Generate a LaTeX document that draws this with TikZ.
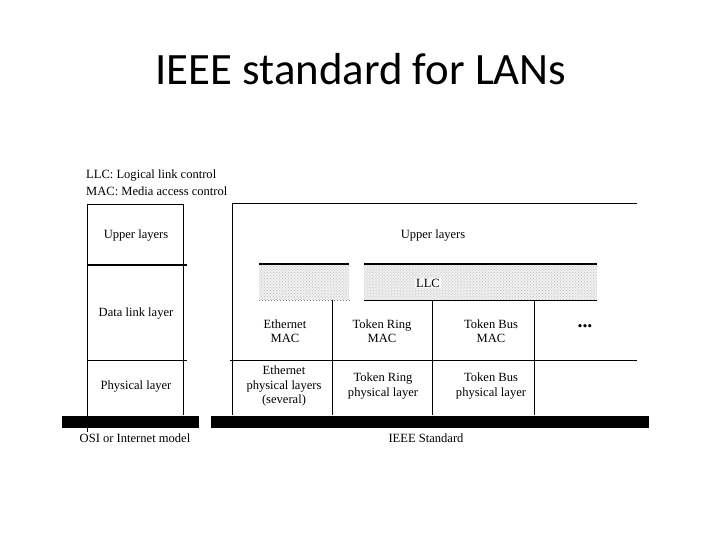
\documentclass[tikz,border=0pt]{standalone}
\usepackage{fontspec}
\setmainfont{Liberation Serif}
\newfontfamily\titlefont{Carlito}
\usetikzlibrary{patterns}
\begin{document}
\begin{tikzpicture}[x=1bp,y=-1bp,
  lbl/.style={font=\fontsize{12.6}{14.5}\selectfont, align=center, inner sep=0pt},
  thin line/.style={line width=1bp},
  bar/.style={fill=black, draw=none}]
\useasboundingbox[fill=white] (0,0) rectangle (720,540);
% title
\node[font=\titlefont\fontsize{45}{50}\selectfont, inner sep=0pt] (title) at (361,69) {IEEE standard for LANs};
% legend
\node[lbl, anchor=west] (leg1) at (86,176) {LLC: Logical link control};
\node[lbl, anchor=west] (leg2) at (86,191) {MAC: Media access control};
% left (OSI) column
\draw[thin line] (87,205) -- (184,205);
\draw[thin line] (87,205) -- (87,432);
\draw[thin line] (183,205) -- (183,415);
\draw[line width=2bp] (87,265) -- (187,265);
\draw[thin line] (87,360) -- (187,360);
\node[lbl] (osiup) at (136,235) {Upper layers};
\node[lbl] (osidl) at (136,313) {Data link layer};
\node[lbl] (osiph) at (136,386) {Physical layer};
\fill[bar] (62,416) rectangle (199,428);
\node[lbl] (osi) at (135,438) {OSI or Internet model};
% right (IEEE) column
\draw[thin line] (232,204) -- (637,204);
\draw[thin line] (232,204) -- (232,415);
\node[lbl] (ieeeup) at (433,235) {Upper layers};
% LLC band
\fill[gray!12] (259,264) rectangle (349,300);
\fill[gray!12] (364,264) rectangle (597,300);
\fill[pattern=crosshatch dots, pattern color=gray!50] (259,264) rectangle (349,300);
\fill[pattern=crosshatch dots, pattern color=gray!50] (364,264) rectangle (597,300);
\draw[line width=1.5bp] (259,264) -- (349,264);
\draw[line width=1.5bp] (364,264) -- (597,264);
\draw[thin line, gray, dotted] (259,300) -- (349,300);
\draw[thin line] (364,300) -- (597,300);
\node[lbl, fill=gray!6, inner sep=1bp] (llc) at (428,283) {LLC};
% MAC / physical grid
\draw[thin line] (332,300) -- (332,415);
\draw[thin line] (432,300) -- (432,415);
\draw[thin line] (534,300) -- (534,415);
\draw[thin line] (230,360) -- (637,360);
\node[lbl] (emac) at (285,331) {Ethernet\\MAC};
\node[lbl] (trmac) at (382,331) {Token Ring\\MAC};
\node[lbl] (tbmac) at (491,331) {Token Bus\\MAC};
\node[lbl, font=\bfseries\fontsize{20}{22}\selectfont] (dots) at (585,326) {...};
\node[lbl] (ephy) at (284,386) {Ethernet\\physical layers\\(several)};
\node[lbl] (trphy) at (383,386) {Token Ring\\physical layer};
\node[lbl] (tbphy) at (491,386) {Token Bus\\physical layer};
\fill[bar] (211,416) rectangle (649,428);
\node[lbl] (ieee) at (426,438) {IEEE Standard};
\end{tikzpicture}
\end{document}
